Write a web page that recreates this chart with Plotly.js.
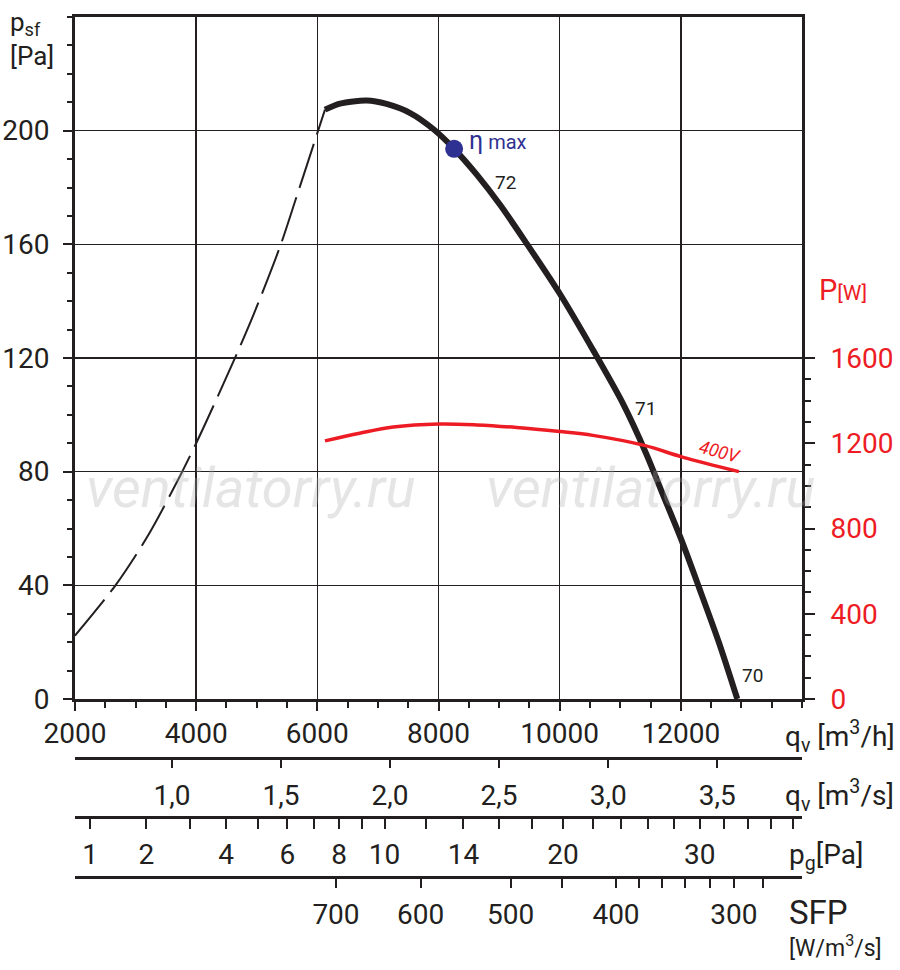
<!DOCTYPE html>
<html>
<head>
<meta charset="utf-8">
<script src="https://cdn.plot.ly/plotly-3.0.1.min.js"></script>
<style>
  html, body { margin: 0; padding: 0; background: #fff; }
  #chart { width: 900px; height: 970px; }
</style>
</head>
<body>
<div id="chart"></div>
<script>
// fan curve, dashed part (unstable zone) - q [m3/h], psf [Pa]
const dashQ = [2000, 2668, 3205, 3710, 4000, 4175, 4614, 4942, 5381, 5655, 5984, 6126];
const dashP = [22.3, 40, 57.5, 77.5, 90, 98, 118.7, 135, 159, 176.6, 198.1, 207.4];

// fan curve, working part
const solidQ = [6126, 6374, 6813, 7143, 7533, 7918, 8258, 8632, 9016, 9451, 10000, 10548, 11041, 11425, 11699, 12000, 12301, 12630, 12932];
const solidP = [207.4, 209.5, 210.6, 209.4, 206.2, 200.5, 193.6, 184.5, 173.9, 160.4, 142.7, 122.9, 104.1, 86.5, 72.2, 56.5, 39.2, 19.8, 0];

// power input 400V - P [W]
const powerQ = [6126, 6700, 7253, 8000, 8630, 9290, 10000, 10548, 11397, 12027, 12959];
const powerW = [1211, 1247, 1276, 1290, 1286, 1274, 1255, 1237, 1190, 1135, 1067];

// max efficiency point
const etaQ = [8258];
const etaP = [193.6];

// main scales
const qTicks = [2000, 4000, 6000, 8000, 10000, 12000];
const pTicks = [0, 40, 80, 120, 160, 200];
const wTicks = [0, 400, 800, 1200, 1600];
const wMinor = [100, 200, 300, 500, 600, 700, 900, 1000, 1100, 1300, 1400, 1500];

// extra scales under the chart
const qsTicks = [1.0, 1.5, 2.0, 2.5, 3.0, 3.5];
const qsText = ['1,0', '1,5', '2,0', '2,5', '3,0', '3,5'];
const pgTicks = [1, 2, 3, 4, 5, 6, 7, 8, 9, 10, 12, 14, 16, 18, 20, 22, 24, 26, 28, 30, 32, 34, 36, 38];
const pgLabels = [1, 2, 4, 6, 8, 10, 14, 20, 30];
const pgQ1 = 2248; // m3/h at pg = 1 Pa
const sfpTicks = [700, 600, 500, 450, 400, 380, 360, 340, 320, 300, 280];
const sfpQ = [6308, 7706, 9192, 10033, 10930, 11310, 11689, 12069, 12481, 12877, 13356];
const sfpLabels = [700, 600, 500, 400, 300];

const FONT = 'Roboto, "Open Sans", sans-serif';
const INK = '#231f20';
const RED = '#ed1c24';
const BLUE = '#2e3192';

// pixel -> paper helpers for text placement
const px = x => (x - 75) / 727;
const py = y => (877 - y) / 860;

const traces = [
  { x: dashQ, y: dashP, type: 'scatter', mode: 'lines', line: { color: INK, width: 2, dash: '46px,10px', shape: 'spline', smoothing: 0.8 }, hoverinfo: 'skip' },
  { x: solidQ, y: solidP, type: 'scatter', mode: 'lines', line: { color: INK, width: 6, shape: 'spline', smoothing: 0.8 }, hoverinfo: 'skip' },
  { x: powerQ, y: powerW, type: 'scatter', mode: 'lines', yaxis: 'y2', line: { color: RED, width: 3.5, shape: 'spline' }, hoverinfo: 'skip' },
  { x: etaQ, y: etaP, type: 'scatter', mode: 'markers', marker: { color: BLUE, size: 18 }, hoverinfo: 'skip' }
];

// hidden copies so the extra scales get drawn
['x2', 'x3', 'x4'].forEach(ax => {
  traces.push({ x: solidQ, y: solidP, xaxis: ax, type: 'scatter', mode: 'lines', opacity: 0, hoverinfo: 'skip' });
});

const extraAxis = {
  overlaying: 'x', anchor: 'free', range: [2000, 14000], tickmode: 'array',
  showgrid: false, zeroline: false, showline: true, linecolor: INK, linewidth: 2.5,
  ticks: 'outside', tickcolor: INK, tickwidth: 2, tickfont: { family: FONT, size: 28, color: INK }
};

function label(x, y, text, size, color, extra) {
  return Object.assign({
    xref: 'paper', yref: 'paper', x: px(x), y: py(y), xanchor: 'center', yanchor: 'middle',
    text: text, showarrow: false, font: { family: FONT, size: size, color: color }
  }, extra || {});
}

const waterFont = { family: FONT, size: 56, style: 'italic', color: 'rgba(170,170,170,0.3)' };

const layout = {
  width: 900, height: 970,
  margin: { l: 75, r: 98, t: 17, b: 93 },
  paper_bgcolor: '#fff', plot_bgcolor: '#fff',
  showlegend: false,
  font: { family: FONT, color: INK },
  xaxis: {
    range: [2000, 14000], domain: [0, 1], anchor: 'y',
    tickmode: 'array', tickvals: qTicks, ticktext: qTicks.map(String),
    showgrid: true, gridcolor: INK, gridwidth: 1.5,
    showline: true, linecolor: INK, linewidth: 3, mirror: true,
    zeroline: false,
    ticks: 'outside', ticklen: 9, tickwidth: 2, tickcolor: INK,
    minor: { dtick: 500, tick0: 2000, ticks: 'outside', ticklen: 6, tickwidth: 2, tickcolor: INK, showgrid: false },
    tickfont: { family: FONT, size: 28, color: INK },
    ticklabelstandoff: -2
  },
  xaxis2: Object.assign({}, extraAxis, {
    position: py(758),
    tickvals: qsTicks.map(v => v * 3600), ticktext: qsText,
    ticklen: 8, ticklabelstandoff: 4
  }),
  xaxis3: Object.assign({}, extraAxis, {
    position: py(817),
    tickvals: pgTicks.map(p => pgQ1 * Math.sqrt(p)),
    ticktext: pgTicks.map(p => pgLabels.includes(p) ? String(p) : ''),
    ticklen: 10, ticklabelstandoff: 2
  }),
  xaxis4: Object.assign({}, extraAxis, {
    position: py(877),
    tickvals: sfpQ,
    ticktext: sfpTicks.map(s => sfpLabels.includes(s) ? String(s) : ''),
    ticklen: 9, ticklabelstandoff: 3
  }),
  yaxis: {
    range: [0, 240], domain: [py(699), 1],
    tickmode: 'array', tickvals: pTicks,
    showgrid: true, gridcolor: INK, gridwidth: 1.5,
    showline: true, linecolor: INK, linewidth: 3, mirror: true,
    zeroline: false,
    ticks: 'outside', ticklen: 9, tickwidth: 2, tickcolor: INK,
    minor: { dtick: 10, tick0: 0, ticks: 'outside', ticklen: 5, tickwidth: 2, tickcolor: INK, showgrid: false },
    tickfont: { family: FONT, size: 28, color: INK },
    ticklabelstandoff: 8
  },
  yaxis2: {
    overlaying: 'y', side: 'right', anchor: 'x',
    range: [0, 3200],
    tickmode: 'array', tickvals: wTicks,
    showgrid: false, zeroline: false,
    showline: true, linecolor: INK, linewidth: 3,
    ticks: 'outside', ticklen: 10, tickwidth: 2, tickcolor: INK,
    minor: { tickmode: 'array', tickvals: wMinor, ticks: 'outside', ticklen: 6, tickwidth: 2, tickcolor: INK, showgrid: false },
    tickfont: { family: FONT, size: 28, color: RED },
    ticklabelstandoff: 10
  },
  annotations: [
    label(250, 488, 'ventilatorry.ru', 56, '', { font: waterFont }),
    label(650, 488, 'ventilatorry.ru', 56, '', { font: waterFont }),
    label(8, 39, 'p<sub>sf</sub><br>[Pa]', 26, INK, { xanchor: 'left', align: 'left' }),
    label(817, 290, 'P<span style="font-size:21px">[W]</span>', 29, RED, { xanchor: 'left' }),
    label(783, 737, 'q<sub>v</sub> [m<sup>3</sup>/h]', 28, INK, { xanchor: 'left' }),
    label(783, 795, 'q<sub>v</sub> [m<sup>3</sup>/s]', 28, INK, { xanchor: 'left' }),
    label(787, 856, 'p<sub>g</sub>[Pa]', 28, INK, { xanchor: 'left' }),
    label(787, 912, 'SFP', 33, INK, { xanchor: 'left' }),
    label(787, 946, '[W/m<sup>3</sup>/s]', 23, INK, { xanchor: 'left' }),
    label(505, 182, '72', 19, INK),
    label(645, 409, '71', 19, INK),
    label(752, 675, '70', 19, INK),
    label(720, 451, '400V', 18, RED, { textangle: 15, font: { family: FONT, size: 18, style: 'italic', color: RED } }),
    label(467, 140, 'η<span style="font-size:20px"> max</span>', 25, BLUE, { xanchor: 'left' })
  ]
};

Plotly.newPlot('chart', traces, layout, { displayModeBar: false, staticPlot: true });
</script>
</body>
</html>
